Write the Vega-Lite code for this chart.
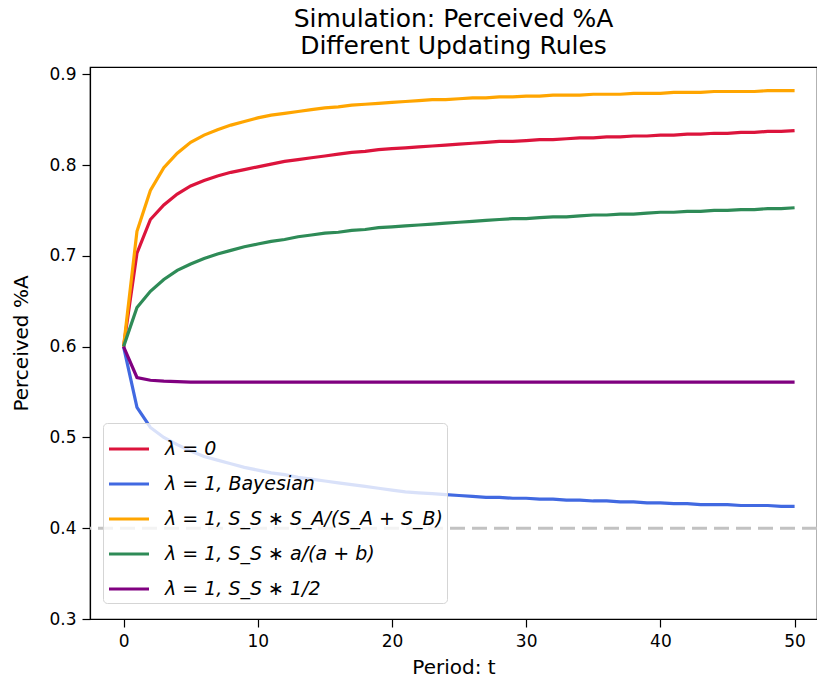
{
  "$schema": "https://vega.github.io/schema/vega-lite/v6.json",
  "width": 727,
  "height": 552,
  "autosize": {"type": "none"},
  "padding": {"left": 90, "top": 67, "right": 0, "bottom": 63},
  "background": "white",
  "config": {
    "font": "DejaVu Sans",
    "view": {"stroke": "black", "strokeWidth": 1.2},
    "axis": {
      "grid": false,
      "domainColor": "black",
      "domainWidth": 1.2,
      "tickColor": "black",
      "tickWidth": 1.2,
      "tickSize": 8,
      "labelFontSize": 17,
      "labelColor": "black",
      "labelPadding": 6,
      "titleFontSize": 20,
      "titleFontWeight": "normal",
      "titleColor": "black",
      "labelFont": "DejaVu Sans",
      "titleFont": "DejaVu Sans"
    }
  },
  "title": {
    "text": ["Simulation: Perceived %A", " Different Updating Rules"],
    "font": "DejaVu Sans",
    "fontSize": 25,
    "fontWeight": "normal",
    "color": "black",
    "anchor": "middle",
    "frame": "group",
    "lineHeight": 27,
    "offset": 6
  },
  "layer": [
    {
      "data": {"values": [{"ref": 0.4}]},
      "mark": {"type": "rule", "color": "#c2c2c2", "strokeWidth": 3, "strokeDash": [15, 7]},
      "encoding": {
        "y": {"field": "ref", "type": "quantitative", "scale": {"domain": [0.3, 0.908], "nice": false, "zero": false}}
      }
    },
    {
      "data": {"values": [
        {"t":0,"r":0.600,"b":0.600,"o":0.600,"g":0.600,"p":0.600},
        {"t":1,"r":0.703,"b":0.533,"o":0.727,"g":0.643,"p":0.566},
        {"t":2,"r":0.740,"b":0.511,"o":0.772,"g":0.661,"p":0.563},
        {"t":3,"r":0.756,"b":0.500,"o":0.797,"g":0.674,"p":0.562},
        {"t":4,"r":0.768,"b":0.492,"o":0.813,"g":0.684,"p":0.5615},
        {"t":5,"r":0.777,"b":0.485,"o":0.825,"g":0.691,"p":0.561},
        {"t":6,"r":0.783,"b":0.479,"o":0.833,"g":0.697,"p":0.561},
        {"t":7,"r":0.788,"b":0.475,"o":0.839,"g":0.702,"p":0.561},
        {"t":8,"r":0.792,"b":0.471,"o":0.844,"g":0.706,"p":0.561},
        {"t":9,"r":0.795,"b":0.467,"o":0.848,"g":0.710,"p":0.561},
        {"t":10,"r":0.798,"b":0.464,"o":0.852,"g":0.713,"p":0.561},
        {"t":11,"r":0.801,"b":0.461,"o":0.855,"g":0.716,"p":0.561},
        {"t":12,"r":0.804,"b":0.459,"o":0.857,"g":0.718,"p":0.561},
        {"t":13,"r":0.806,"b":0.456,"o":0.859,"g":0.721,"p":0.561},
        {"t":14,"r":0.808,"b":0.454,"o":0.861,"g":0.723,"p":0.561},
        {"t":15,"r":0.810,"b":0.452,"o":0.863,"g":0.725,"p":0.561},
        {"t":16,"r":0.812,"b":0.450,"o":0.864,"g":0.726,"p":0.561},
        {"t":17,"r":0.814,"b":0.448,"o":0.866,"g":0.728,"p":0.561},
        {"t":18,"r":0.815,"b":0.446,"o":0.867,"g":0.729,"p":0.561},
        {"t":19,"r":0.817,"b":0.444,"o":0.868,"g":0.731,"p":0.561},
        {"t":20,"r":0.818,"b":0.442,"o":0.869,"g":0.732,"p":0.561},
        {"t":21,"r":0.819,"b":0.440,"o":0.870,"g":0.733,"p":0.561},
        {"t":22,"r":0.820,"b":0.439,"o":0.871,"g":0.734,"p":0.561},
        {"t":23,"r":0.821,"b":0.438,"o":0.872,"g":0.735,"p":0.561},
        {"t":24,"r":0.822,"b":0.437,"o":0.872,"g":0.736,"p":0.561},
        {"t":25,"r":0.823,"b":0.436,"o":0.873,"g":0.737,"p":0.561},
        {"t":26,"r":0.824,"b":0.435,"o":0.874,"g":0.738,"p":0.561},
        {"t":27,"r":0.825,"b":0.434,"o":0.874,"g":0.739,"p":0.561},
        {"t":28,"r":0.826,"b":0.434,"o":0.875,"g":0.740,"p":0.561},
        {"t":29,"r":0.826,"b":0.433,"o":0.875,"g":0.741,"p":0.561},
        {"t":30,"r":0.827,"b":0.433,"o":0.876,"g":0.741,"p":0.561},
        {"t":31,"r":0.828,"b":0.432,"o":0.876,"g":0.742,"p":0.561},
        {"t":32,"r":0.828,"b":0.432,"o":0.877,"g":0.743,"p":0.561},
        {"t":33,"r":0.829,"b":0.431,"o":0.877,"g":0.743,"p":0.561},
        {"t":34,"r":0.830,"b":0.431,"o":0.877,"g":0.744,"p":0.561},
        {"t":35,"r":0.830,"b":0.430,"o":0.878,"g":0.745,"p":0.561},
        {"t":36,"r":0.831,"b":0.430,"o":0.878,"g":0.745,"p":0.561},
        {"t":37,"r":0.831,"b":0.429,"o":0.878,"g":0.746,"p":0.561},
        {"t":38,"r":0.832,"b":0.429,"o":0.879,"g":0.746,"p":0.561},
        {"t":39,"r":0.832,"b":0.428,"o":0.879,"g":0.747,"p":0.561},
        {"t":40,"r":0.833,"b":0.428,"o":0.879,"g":0.748,"p":0.561},
        {"t":41,"r":0.833,"b":0.427,"o":0.880,"g":0.748,"p":0.561},
        {"t":42,"r":0.834,"b":0.427,"o":0.880,"g":0.749,"p":0.561},
        {"t":43,"r":0.834,"b":0.426,"o":0.880,"g":0.749,"p":0.561},
        {"t":44,"r":0.835,"b":0.426,"o":0.881,"g":0.750,"p":0.561},
        {"t":45,"r":0.835,"b":0.426,"o":0.881,"g":0.750,"p":0.561},
        {"t":46,"r":0.836,"b":0.425,"o":0.881,"g":0.751,"p":0.561},
        {"t":47,"r":0.836,"b":0.425,"o":0.881,"g":0.751,"p":0.561},
        {"t":48,"r":0.837,"b":0.425,"o":0.882,"g":0.752,"p":0.561},
        {"t":49,"r":0.837,"b":0.424,"o":0.882,"g":0.752,"p":0.561},
        {"t":50,"r":0.838,"b":0.424,"o":0.882,"g":0.753,"p":0.561}
      ]},
      "transform": [{"fold": ["r", "b", "o", "g", "p"], "as": ["rule", "value"]}],
      "mark": {"type": "line", "strokeWidth": 3.2},
      "encoding": {
        "x": {
          "field": "t", "type": "quantitative",
          "scale": {"domain": [-2.5, 51.67], "nice": false, "zero": false},
          "axis": {"values": [0, 10, 20, 30, 40, 50], "title": "Period: t", "titlePadding": 8}
        },
        "y": {
          "field": "value", "type": "quantitative",
          "scale": {"domain": [0.3, 0.908], "nice": false, "zero": false},
          "axis": {"values": [0.3, 0.4, 0.5, 0.6, 0.7, 0.8, 0.9], "format": ".1f", "title": "Perceived %A", "titlePadding": 17}
        },
        "color": {
          "field": "rule", "type": "nominal",
          "scale": {"domain": ["r", "b", "o", "g", "p"], "range": ["#dc143c", "#4169e1", "#ffa500", "#2e8b57", "#800080"]},
          "legend": {
            "orient": "none",
            "legendX": 13,
            "legendY": 356,
            "title": null,
            "symbolType": "stroke",
            "symbolSize": 1600,
            "symbolStrokeWidth": 3.2,
            "labelFontSize": 19,
            "labelFontStyle": "italic",
            "labelColor": "black",
            "labelOffset": 14,
            "labelLimit": 500,
            "rowPadding": 3,
            "padding": 4,
            "strokeColor": "#d5d5d5",
            "fillColor": "rgba(255,255,255,0.8)",
            "cornerRadius": 4,
            "labelExpr": "{'r': 'λ = 0', 'b': 'λ = 1, Bayesian', 'o': 'λ = 1, S_S ∗ S_A/(S_A + S_B)', 'g': 'λ = 1, S_S ∗ a/(a + b)', 'p': 'λ = 1, S_S ∗ 1/2'}[datum.label]"
          }
        }
      }
    }
  ]
}
